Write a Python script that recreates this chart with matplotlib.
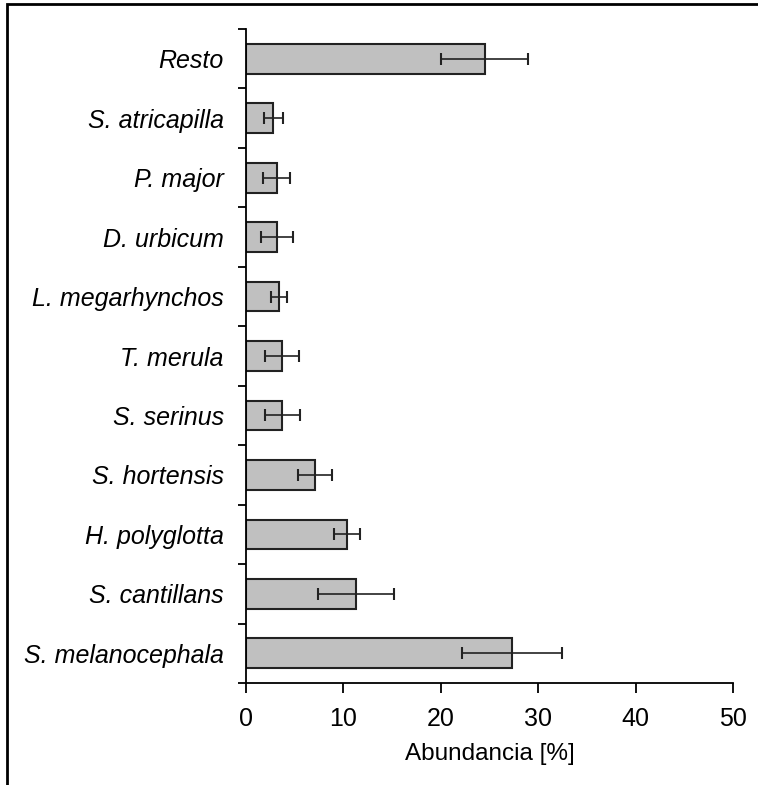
import numpy as np
import matplotlib.pyplot as plt
from matplotlib.patches import Rectangle

plt.rcParams['font.family'] = ['Liberation Sans', 'DejaVu Sans']

# ============= data (bottom to top) =============
species = ['S. melanocephala', 'S. cantillans', 'H. polyglotta', 'S. hortensis',
           'S. serinus', 'T. merula', 'L. megarhynchos', 'D. urbicum',
           'P. major', 'S. atricapilla', 'Resto']
abundance = [27.3, 11.3, 10.35, 7.1, 3.7, 3.7, 3.4, 3.15, 3.15, 2.8, 24.5]
error = [5.1, 3.9, 1.35, 1.75, 1.8, 1.75, 0.85, 1.65, 1.4, 0.95, 4.45]
xticks = [0, 10, 20, 30, 40, 50]

# ============= figure =============
fig = plt.figure(figsize=(7.58, 7.85), dpi=100)
ax = fig.add_axes([246 / 758, 1 - 683 / 785, (733 - 246) / 758, (683 - 29) / 785])

# outer frame (only top and left edges visible in the original)
fig.patches.append(Rectangle((7 / 758, -0.1), 1.2, 1.1 - 4 / 785,
                             transform=fig.transFigure, fill=False,
                             edgecolor='black', linewidth=2))

y = np.arange(len(species))
ax.barh(y, abundance, height=0.5, color='#c0c0c0', edgecolor='#222222',
        linewidth=1.5, zorder=2)
ax.errorbar(abundance, y, xerr=error, fmt='none', ecolor='#222222',
            elinewidth=1.2, capsize=4.5, capthick=1.5, zorder=3)

ax.set_xlim(0, 50)
ax.set_ylim(-0.5, len(species) - 0.5)
ax.set_xticks(xticks)
ax.set_xticklabels([str(t) for t in xticks], fontsize=18)

# major ticks at category boundaries, labels at centres
ax.set_yticks(np.arange(-0.5, len(species), 1.0))
ax.set_yticklabels([])
ax.set_yticks(y, minor=True)
ax.set_yticklabels(species, minor=True, fontsize=18, style='italic')
ax.tick_params(axis='y', which='minor', length=0, pad=16)
ax.tick_params(axis='y', which='major', length=6, width=1.3, direction='out')
ax.tick_params(axis='x', length=7, width=1.3, direction='out', pad=10)

ax.set_xlabel('Abundancia [%]', fontsize=17.5, labelpad=9)

for s in ['top', 'right']:
    ax.spines[s].set_visible(False)
for s in ['left', 'bottom']:
    ax.spines[s].set_linewidth(1.3)

plt.savefig('out.png', dpi=100)
